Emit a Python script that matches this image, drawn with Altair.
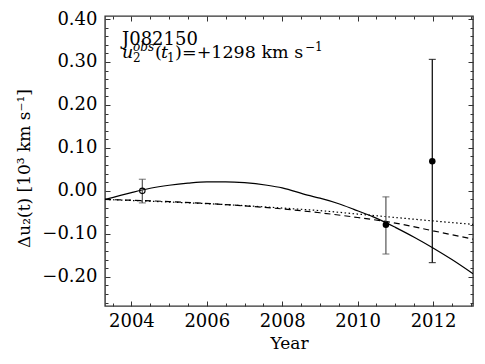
import altair as alt
import pandas as pd

# ---- data ----
solid_year = [2003.3, 2004.0, 2004.5, 2005.0, 2005.5, 2006.0, 2006.5, 2007.0, 2007.6, 2008.0,
              2008.67, 2009.0, 2009.5, 2009.9, 2010.4, 2010.75, 2011.0, 2011.5, 2012.0, 2012.5, 2013.06]
solid_val = [-0.020, -0.004, 0.006, 0.013, 0.018, 0.021, 0.021, 0.019, 0.013, 0.007,
             -0.010, -0.017, -0.030, -0.043, -0.060, -0.074, -0.085, -0.108, -0.133, -0.160, -0.193]

dash_year = [2003.3, 2005.0, 2006.5, 2008.0, 2009.0, 2010.0, 2011.0, 2012.0, 2013.06]
dash_val = [-0.020, -0.025, -0.032, -0.042, -0.051, -0.062, -0.075, -0.093, -0.1125]

dot_year = [2003.3, 2005.0, 2006.5, 2008.0, 2009.0, 2010.0, 2011.0, 2012.0, 2013.06]
dot_val = [-0.020, -0.026, -0.032, -0.040, -0.046, -0.054, -0.062, -0.070, -0.078]

obs_year = [2004.29, 2010.75, 2011.98]
obs_val = [0.000, -0.079, 0.069]
obs_lo = [-0.028, -0.147, -0.167]
obs_hi = [0.027, -0.014, 0.306]
obs_kind = ["open", "filled", "filled"]
obs_color = ["#555555", "#555555", "#000000"]

x_major = [2004, 2006, 2008, 2010, 2012]
x_minor = [2003.5, 2004.5, 2005, 2005.5, 2006.5, 2007, 2007.5, 2008.5, 2009, 2009.5,
           2010.5, 2011, 2011.5, 2012.5, 2013]
y_major = [-0.2, -0.1, 0.0, 0.1, 0.2, 0.3, 0.4]
y_minor = [-0.26, -0.24, -0.22, -0.18, -0.16, -0.14, -0.12, -0.08, -0.06, -0.04, -0.02,
           0.02, 0.04, 0.06, 0.08, 0.12, 0.14, 0.16, 0.18, 0.22, 0.24, 0.26, 0.28,
           0.32, 0.34, 0.36, 0.38]

X_DOMAIN = [2003.3, 2013.06]
Y_DOMAIN = [-0.268, 0.407]

title_line1 = "J082150"
# second annotation line, split into pieces
line2_text = ["u", "2", "obs", "(", "t", "1", ")", "=+1298 km s", "\u22121"]
line2_italic = [True, False, True, False, True, False, False, False, False]
line2_kind = ["main", "sub", "sup", "main", "main", "sub", "main", "main", "sup"]
line2_x = [17, 28, 28, 50, 56, 62, 70, 77, 200]

y_title = "\u0394u\u2082(t) [10\u00b3 km s\u207b\u00b9]"
x_title = "Year"

FONT = "DejaVu Serif"

solid_df = pd.DataFrame({"year": solid_year, "val": solid_val})
dash_df = pd.DataFrame({"year": dash_year, "val": dash_val})
dot_df = pd.DataFrame({"year": dot_year, "val": dot_val})
obs_df = pd.DataFrame({"year": obs_year, "val": obs_val, "lo": obs_lo, "hi": obs_hi,
                       "kind": obs_kind, "color": obs_color})

xs = alt.Scale(domain=X_DOMAIN, nice=False, zero=False)
ys = alt.Scale(domain=Y_DOMAIN, nice=False, zero=False)


def ax(orient, values, size, labels=False, title=None, **kw):
    return alt.Axis(orient=orient, values=values, tickSize=size, offset=-size, labels=labels,
                    domain=False, grid=False, title=title, labelFont=FONT, labelFontSize=18,
                    labelColor="black", tickColor="#333333", tickWidth=1,
                    titleFont=FONT, titleFontSize=17, titleFontWeight="normal", titleColor="black",
                    **kw)


solid = alt.Chart(solid_df).mark_line(color="black", strokeWidth=1.2, interpolate="monotone", clip=True).encode(
    x=alt.X("year:Q", scale=xs,
            axis=ax("bottom", x_major, 5, labels=True, title=x_title, format="d",
                    labelPadding=6, titleY=47, titleBaseline="alphabetic")),
    y=alt.Y("val:Q", scale=ys,
            axis=ax("left", y_major, 5, labels=True, title=y_title, format=".2f",
                    labelPadding=8, titleX=-77, titleY=152, titleBaseline="bottom")),
)

dashed = alt.Chart(dash_df).mark_line(color="black", strokeWidth=1.2, strokeDash=[6, 4],
                                      interpolate="monotone", clip=True).encode(
    x=alt.X("year:Q", scale=xs, axis=ax("bottom", x_minor, 3)),
    y=alt.Y("val:Q", scale=ys, axis=ax("left", y_minor, 3)),
)

dotted = alt.Chart(dot_df).mark_line(color="black", strokeWidth=1.2, strokeDash=[1.5, 2.5],
                                     interpolate="monotone", clip=True).encode(
    x=alt.X("year:Q", scale=xs, axis=ax("top", x_major, 5)),
    y=alt.Y("val:Q", scale=ys, axis=ax("right", y_major, 5)),
)

bars = alt.Chart(obs_df).mark_rule(strokeWidth=1.2).encode(
    x=alt.X("year:Q", scale=xs, axis=ax("top", x_minor, 3)),
    y=alt.Y("lo:Q", scale=ys, axis=ax("right", y_minor, 3)),
    y2="hi:Q",
    color=alt.Color("color:N", scale=None),
)

cap_lo = alt.Chart(obs_df).mark_tick(orient="horizontal", size=7, thickness=1.2).encode(
    x=alt.X("year:Q", scale=xs, axis=None),
    y=alt.Y("lo:Q", scale=ys, axis=None),
    color=alt.Color("color:N", scale=None),
)
cap_hi = alt.Chart(obs_df).mark_tick(orient="horizontal", size=7, thickness=1.2).encode(
    x=alt.X("year:Q", scale=xs, axis=None),
    y=alt.Y("hi:Q", scale=ys, axis=None),
    color=alt.Color("color:N", scale=None),
)

open_pt = alt.Chart(obs_df).transform_filter(alt.datum.kind == "open").mark_point(
    shape="circle", size=30, filled=False, color="black", strokeWidth=1.1, opacity=1).encode(
    x=alt.X("year:Q", scale=xs, axis=None),
    y=alt.Y("val:Q", scale=ys, axis=None),
)
filled_pt = alt.Chart(obs_df).transform_filter(alt.datum.kind == "filled").mark_point(
    shape="circle", size=42, filled=True, color="black", opacity=1).encode(
    x=alt.X("year:Q", scale=xs, axis=None),
    y=alt.Y("val:Q", scale=ys, axis=None),
)

label_df = pd.DataFrame({"t": [title_line1]})
text_layers = [
    alt.Chart(label_df).mark_text(align="left", baseline="alphabetic", font=FONT, fontSize=18,
                                  color="black").encode(x=alt.value(17), y=alt.value(29), text="t:N")
]
BASE_Y = 41.5
kind_dy = {"main": 0, "sub": 4, "sup": -7}
kind_size = {"main": 17.5, "sub": 12, "sup": 12}
for t, it, k, px in zip(line2_text, line2_italic, line2_kind, line2_x):
    d = pd.DataFrame({"t": [t]})
    text_layers.append(
        alt.Chart(d).mark_text(align="left", baseline="alphabetic", font=FONT, fontSize=kind_size[k],
                               fontStyle="italic" if it else "normal", color="black").encode(
            x=alt.value(px), y=alt.value(BASE_Y + kind_dy[k]), text="t:N")
    )

chart = alt.layer(solid, dashed, dotted, bars, cap_lo, cap_hi, open_pt, filled_pt, *text_layers).resolve_axis(
    x="independent", y="independent"
).properties(
    width=368, height=290,
    autosize=alt.AutoSizeParams(type="none"),
    padding={"left": 97, "top": 8, "right": 4, "bottom": 50},
).configure_view(
    stroke="#333333", strokeWidth=1.4
)

chart.save("out.html", embed_options={"renderer": "svg", "actions": False})
